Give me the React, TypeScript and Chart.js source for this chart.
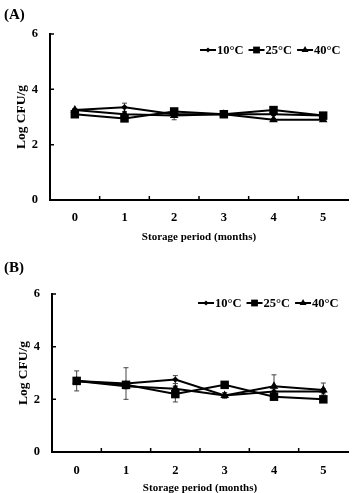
import React, { useEffect, useRef } from "react";
import { Chart, registerables } from "chart.js";

Chart.register(...registerables);

const FONT = "'Liberation Serif', 'Times New Roman', serif";

// Categories and labels
const months = ["0", "1", "2", "3", "4", "5"];
const seriesLabels = ["10°C", "25°C", "40°C"];
const xTitle = "Storage period (months)";
const yTitle = "Log CFU/g";
const yMin = 0;
const yMax = 6;
const yStep = 2;

// Panel A values
const a10 = [3.25, 3.35, 3.1, 3.1, 3.1, 3.05];
const a25 = [3.1, 2.95, 3.2, 3.1, 3.25, 3.05];
const a40 = [3.25, 3.1, 3.05, 3.1, 2.9, 2.9];
const a10Err = [0.05, 0.15, 0.05, 0.03, 0.05, 0.05];
const a25Err = [0.05, 0.05, 0.05, 0.03, 0.05, 0.05];
const a40Err = [0.05, 0.05, 0.15, 0.03, 0.05, 0.05];

// Panel B values
const b10 = [2.7, 2.6, 2.75, 2.15, 2.3, 2.3];
const b25 = [2.7, 2.55, 2.2, 2.55, 2.1, 2.0];
const b40 = [2.7, 2.5, 2.4, 2.15, 2.5, 2.35];
const b10Err = [0.38, 0.6, 0.15, 0.1, 0.1, 0.1];
const b25Err = [0.1, 0.1, 0.3, 0.1, 0.1, 0.08];
const b40Err = [0.1, 0.1, 0.1, 0.1, 0.43, 0.27];

const pointStyles = ["rectRot", "rect", "triangle"];
const pointRadii = [3.2, 6, 5];

function drawMarker(ctx: CanvasRenderingContext2D, style: string, r: number, x: number, y: number) {
  ctx.save();
  ctx.fillStyle = "#000";
  ctx.beginPath();
  if (style === "rect") {
    const s = Math.SQRT1_2 * r;
    ctx.rect(x - s, y - s, 2 * s, 2 * s);
  } else if (style === "rectRot") {
    ctx.moveTo(x, y - r);
    ctx.lineTo(x + r, y);
    ctx.lineTo(x, y + r);
    ctx.lineTo(x - r, y);
    ctx.closePath();
  } else {
    ctx.moveTo(x, y - r);
    ctx.lineTo(x + r * 0.866, y + r * 0.5);
    ctx.lineTo(x - r * 0.866, y + r * 0.5);
    ctx.closePath();
  }
  ctx.fill();
  ctx.restore();
}

const errorBarPlugin = {
  id: "errorBars",
  beforeDatasetsDraw(chart: any) {
    const ctx = chart.ctx as CanvasRenderingContext2D;
    const xs = chart.scales.x;
    const ys = chart.scales.y;
    ctx.save();
    ctx.strokeStyle = "#444";
    ctx.lineWidth = 1;
    chart.data.datasets.forEach((ds: any) => {
      const errs: number[] = ds.errors || [];
      ds.data.forEach((v: number, i: number) => {
        const e = errs[i];
        if (!e) return;
        const x = xs.getPixelForValue(i);
        const yt = ys.getPixelForValue(v + e);
        const yb = ys.getPixelForValue(v - e);
        ctx.beginPath();
        ctx.moveTo(x, yt);
        ctx.lineTo(x, yb);
        ctx.moveTo(x - 2.5, yt);
        ctx.lineTo(x + 2.5, yt);
        ctx.moveTo(x - 2.5, yb);
        ctx.lineTo(x + 2.5, yb);
        ctx.stroke();
      });
    });
    ctx.restore();
  },
};

const decorPlugin = {
  id: "decor",
  afterDraw(chart: any, _args: any, opts: any) {
    const ctx = chart.ctx as CanvasRenderingContext2D;
    const area = chart.chartArea;
    const xs = chart.scales.x;
    const ys = chart.scales.y;
    ctx.save();
    // inward tick marks
    ctx.strokeStyle = "#000";
    ctx.lineWidth = 1.5;
    ctx.beginPath();
    ys.ticks.forEach((t: any) => {
      if (t.value === yMin) return;
      const y = ys.getPixelForValue(t.value);
      ctx.moveTo(area.left, y);
      ctx.lineTo(area.left + 4, y);
    });
    for (let i = 0; i < months.length - 1; i++) {
      const x = (xs.getPixelForValue(i) + xs.getPixelForValue(i + 1)) / 2;
      ctx.moveTo(x, area.bottom);
      ctx.lineTo(x, area.bottom - 4);
    }
    ctx.stroke();

    // panel label
    ctx.fillStyle = "#000";
    ctx.font = `bold 15px ${FONT}`;
    ctx.textBaseline = "middle";
    ctx.textAlign = "left";
    ctx.fillText(opts.panel, opts.panelX, opts.panelY);

    // legend
    ctx.font = `bold 12.5px ${FONT}`;
    let x = opts.legendX;
    const y = area.top + opts.legendDy;
    chart.data.datasets.forEach((ds: any, i: number) => {
      ctx.strokeStyle = "#000";
      ctx.lineWidth = 2;
      ctx.beginPath();
      ctx.moveTo(x, y);
      ctx.lineTo(x + 16, y);
      ctx.stroke();
      drawMarker(ctx, pointStyles[i], pointRadii[i] * 0.8, x + 8, y);
      ctx.fillStyle = "#000";
      ctx.fillText(ds.label, x + 17, y + 0.5);
      x += 17 + ctx.measureText(ds.label).width + 5;
    });
    ctx.restore();
  },
};

type PanelProps = {
  panel: string;
  values: number[][];
  errors: number[][];
  height: number;
  padTop: number;
  padLeft: number;
  axisWidth: number;
  xAxisHeight: number;
  tickPad: number;
  titlePadBottom: number;
  legendX: number;
  legendDy: number;
  panelY: number;
};

function Panel(p: PanelProps) {
  const ref = useRef<HTMLCanvasElement | null>(null);
  useEffect(() => {
    if (!ref.current) return;
    const chart = new Chart(ref.current, {
      type: "line",
      data: {
        labels: months,
        datasets: seriesLabels.map((label, i) => ({
          label,
          data: p.values[i],
          errors: p.errors[i],
          borderColor: "#000",
          backgroundColor: "#000",
          borderWidth: 2,
          tension: 0,
          pointStyle: pointStyles[i],
          pointRadius: pointRadii[i],
          pointBackgroundColor: "#000",
          pointBorderColor: "#000",
          pointBorderWidth: 0,
        })) as any,
      },
      options: {
        animation: false,
        responsive: false,
        maintainAspectRatio: false,
        events: [],
        layout: { padding: { top: p.padTop, left: p.padLeft, right: 4, bottom: 0 } },
        plugins: {
          legend: { display: false },
          tooltip: { enabled: false },
          title: { display: false },
          decor: { panel: p.panel, panelX: 4, panelY: p.panelY, legendX: p.legendX, legendDy: p.legendDy },
        } as any,
        scales: {
          x: {
            type: "category",
            offset: true,
            grid: { display: true, drawOnChartArea: false, drawTicks: false },
            border: { display: true, color: "#000", width: 2 },
            ticks: { color: "#000", padding: p.tickPad, font: { family: FONT, size: 12.5, weight: "bold" } },
            title: {
              display: true,
              text: xTitle,
              color: "#000",
              font: { family: FONT, size: 11, weight: "bold" },
              padding: { top: 0, bottom: p.titlePadBottom },
            },
            afterFit: (s: any) => {
              s.height = p.xAxisHeight;
            },
          },
          y: {
            type: "linear",
            min: yMin,
            max: yMax,
            grid: { display: true, drawOnChartArea: false, drawTicks: false },
            border: { display: true, color: "#000", width: 2 },
            ticks: { stepSize: yStep, color: "#000", padding: 12, font: { family: FONT, size: 12.5, weight: "bold" } },
            title: {
              display: true,
              text: yTitle,
              color: "#000",
              font: { family: FONT, size: 13.5, weight: "bold" },
              padding: { top: 0, bottom: 0 },
            },
            afterFit: (s: any) => {
              s.width = p.axisWidth;
            },
          },
        },
      },
      plugins: [errorBarPlugin, decorPlugin],
    });
    return () => chart.destroy();
  }, []);
  return <canvas ref={ref} width={354} height={p.height} style={{ display: "block", width: 354, height: p.height }} />;
}

export default function App() {
  return (
    <div style={{ position: "fixed", left: 0, top: 0, width: 354, height: 493, overflow: "hidden", background: "#fff" }}>
      <Panel
        panel="(A)"
        values={[a10, a25, a40]}
        errors={[a10Err, a25Err, a40Err]}
        height={246}
        padTop={34}
        padLeft={13}
        axisWidth={37}
        xAxisHeight={46}
        tickPad={10}
        titlePadBottom={2}
        legendX={200}
        legendDy={16}
        panelY={15}
      />
      <Panel
        panel="(B)"
        values={[b10, b25, b40]}
        errors={[b10Err, b25Err, b40Err]}
        height={256}
        padTop={48}
        padLeft={15}
        axisWidth={37}
        xAxisHeight={50}
        tickPad={11}
        titlePadBottom={7}
        legendX={198}
        legendDy={9}
        panelY={22}
      />
    </div>
  );
}
